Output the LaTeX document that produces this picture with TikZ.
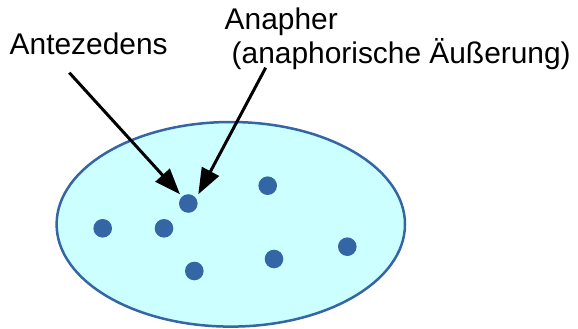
\documentclass[tikz,border=0pt]{standalone}
\usepackage{fontspec}
\setmainfont{Liberation Sans}
\usetikzlibrary{arrows.meta}
\definecolor{dotblue}{HTML}{3465A4}
\definecolor{setfill}{HTML}{CCFFFF}
\tikzset{
  lbl/.style={anchor=base west, inner sep=0pt, font=\fontsize{29.9}{34}\selectfont},
  dot/.style={circle, fill=dotblue, minimum size=18.6pt, inner sep=0pt},
  arr/.style={line width=3pt, -{Triangle[length=26pt,width=19pt]}},
}
\begin{document}
\begin{tikzpicture}[x=1pt,y=-1pt]
\useasboundingbox (0,0) rectangle (578,329);
\draw[draw=dotblue, fill=setfill, line width=2.5pt] (230.8,224.3) ellipse [x radius=174.2, y radius=102.3];
\node[dot] (a) at (188.3,203.5) {};
\node[dot] (b) at (102.7,228.3) {};
\node[dot] (c) at (164,228.3) {};
\node[dot] (d) at (194.3,271) {};
\node[dot] (e) at (267.7,185.7) {};
\node[dot] (f) at (274,259) {};
\node[dot] (g) at (347.3,246.7) {};
\node[lbl] (ant) at (9.5,54.2) {Antezedens};
\node[lbl] (ana) at (224.5,29.3) {Anapher};
\node[lbl] (anb) at (231.5,63.3) {(anaphorische Äußerung)};
\coordinate (antStart) at (69.3,72.7);
\coordinate (anaStart) at (265.7,67.7);
\coordinate (tipL) at (180,194.3);
\coordinate (tipR) at (198.3,194.3);
\draw[arr] (antStart) -- (tipL);
\draw[arr] (anaStart) -- (tipR);
\end{tikzpicture}
\end{document}
